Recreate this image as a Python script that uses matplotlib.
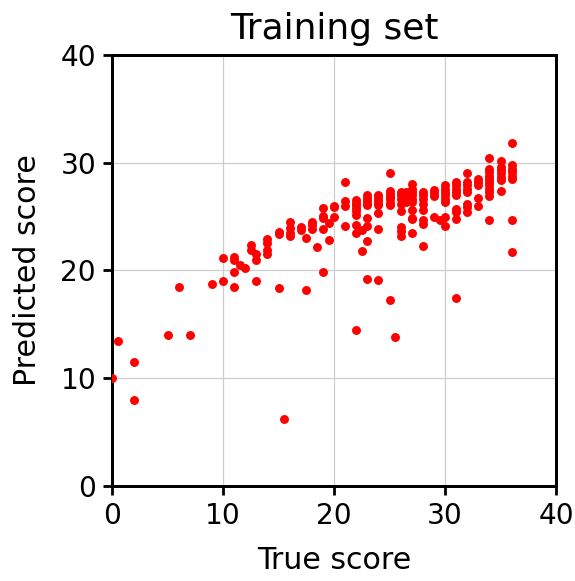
import matplotlib
matplotlib.use("Agg")
import matplotlib.pyplot as plt

# True vs predicted scores on the training split
true_score = [
    0, 0.5, 2, 2, 5, 6, 7, 9,
    10, 10, 11, 11, 11, 11, 11.5, 12,
    12.5, 12.5, 13, 13, 13,
    14, 14, 14, 14, 15, 15, 15, 15.5,
    16, 16, 16, 16, 17, 17, 17.5, 17.5,
    18, 18, 18, 18.5, 19, 19, 19, 19, 19, 19.5, 19.5,
    20, 20, 20, 21, 21, 21, 21,
    22, 22, 22, 22, 22, 22, 22, 22, 22, 22.5, 22.5,
    23, 23, 23, 23, 23, 23, 23, 23, 23,
    24, 24, 24, 24, 24, 24, 24, 24,
    25, 25, 25, 25, 25, 25, 25, 25, 25.5,
    26, 26, 26, 26, 26, 26, 26, 26,
    26.5, 26.5, 26.5,
    27, 27, 27, 27, 27, 27, 27, 27, 27, 27,
    28, 28, 28, 28, 28, 28, 28, 28,
    29, 29, 29, 29, 29.5,
    30, 30, 30, 30, 30, 30, 30, 30,
    31, 31, 31, 31, 31, 31, 31, 31, 31,
    32, 32, 32, 32, 32, 32, 32, 32,
    33, 33, 33, 33, 33,
    34, 34, 34, 34, 34, 34, 34, 34, 34, 34, 34,
    35, 35, 35, 35, 35, 35, 35,
    36, 36, 36, 36, 36, 36, 36, 36,
]
predicted_score = [
    10.0, 13.5, 11.5, 8.0, 14.0, 18.5, 14.0, 18.7,
    21.2, 19.0, 21.25, 21.0, 19.9, 18.5, 20.5, 20.2,
    22.4, 21.9, 21.56, 20.94, 19.0,
    22.9, 22.58, 21.87, 21.56, 23.57, 23.35, 18.4, 6.2,
    24.47, 23.9, 23.5, 23.17, 24.03, 23.72, 23.0, 18.15,
    24.47, 24.19, 23.88, 22.17, 25.83, 25.05, 24.86, 23.88, 19.9, 24.4, 22.86,
    26.0, 25.9, 24.96, 28.2, 26.44, 25.95, 24.1,
    26.57, 26.3, 26.04, 25.8, 25.5, 25.1, 24.2, 23.5, 14.5, 23.8, 21.8,
    26.97, 26.7, 26.44, 26.2, 26.04, 24.87, 24.1, 22.7, 19.2,
    27.04, 26.8, 26.57, 26.3, 26.1, 25.33, 23.88, 19.15,
    29.04, 27.37, 27.1, 26.85, 26.6, 26.3, 26.1, 17.3, 13.85,
    27.28, 26.97, 26.67, 26.2, 25.5, 24.03, 23.66, 23.2,
    27.3, 26.8, 26.35,
    28.06, 27.6, 27.3, 26.97, 26.67, 26.35, 25.58, 24.8, 23.47, 24.9,
    27.28, 26.97, 26.67, 26.2, 25.58, 24.65, 24.34, 22.24,
    27.5, 27.2, 26.9, 25.0, 24.65,
    27.9, 27.6, 27.3, 26.97, 26.67, 26.35, 25.0, 24.1,
    28.2, 27.9, 27.6, 27.3, 26.97, 25.7, 25.4, 24.8, 17.4,
    29.08, 28.2, 27.9, 27.6, 27.3, 26.2, 25.9, 25.4,
    28.5, 28.2, 27.9, 26.7, 25.95,
    30.4, 29.45, 29.1, 28.8, 28.5, 28.2, 27.9, 27.6, 27.3, 26.9, 24.7,
    30.16, 29.6, 29.3, 29.0, 28.7, 28.4, 27.4,
    31.87, 29.8, 29.45, 29.1, 28.8, 28.5, 24.65, 21.7,
]

x_ticks = [0, 10, 20, 30, 40]
y_ticks = [0, 10, 20, 30, 40]

fig = plt.figure(figsize=(575 / 144, 581 / 144), dpi=144)
ax = fig.add_axes([0.195, 0.1635, 0.772, 0.742])

ax.scatter(true_score, predicted_score, s=12, color="red", zorder=3)

ax.set_xlim(0, 40)
ax.set_ylim(0, 40)
ax.set_xticks(x_ticks)
ax.set_yticks(y_ticks)
ax.tick_params(labelsize=14, width=1.4, length=4.5)
for side in ax.spines.values():
    side.set_linewidth(1.5)
ax.grid(True, color="#cccccc", linewidth=0.6, zorder=0)

ax.set_title("Training set", fontsize=18, pad=8)
ax.set_xlabel("True score", fontsize=15, labelpad=8)
ax.set_ylabel("Predicted score", fontsize=15, labelpad=9)

fig.savefig("out.png", dpi=144)
